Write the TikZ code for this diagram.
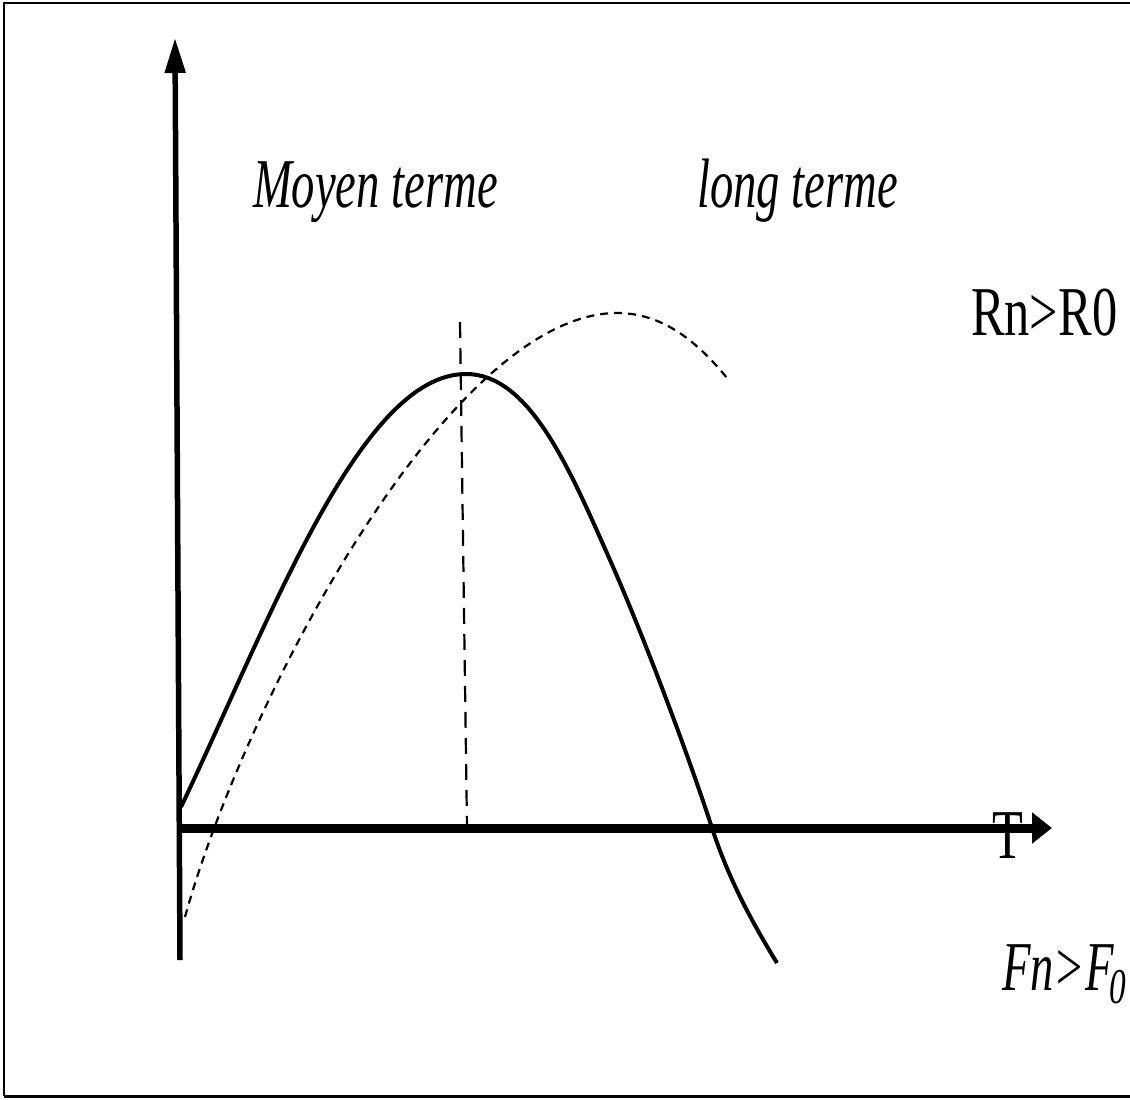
\documentclass[tikz,border=0pt]{standalone}
\usepackage{fontspec}
\setmainfont{Liberation Serif}
\usetikzlibrary{arrows.meta}
\begin{document}
\begin{tikzpicture}[x=1pt,y=-1pt,
  lbl/.style={inner sep=0pt,anchor=base west,xscale=0.72,font=\fontsize{70}{80}\selectfont},
  ilbl/.style={lbl,xscale=0.925,font=\fontsize{70}{80}\selectfont\itshape},
  thincurve/.style={line width=2.2pt,dash pattern=on 8pt off 6pt},
  guide/.style={line width=2.2pt,dash pattern=on 16pt off 10pt}]
\useasboundingbox (0,0) rectangle (1130,1100);
% frame
\draw[line width=2pt] (1130,3) -- (4,3) -- (4,1096);
\draw[line width=3pt] (4,1096) -- (1130,1096);
% axes
\coordinate (ybot) at (180,960);
\coordinate (ytop) at (175,38);
\coordinate (xl) at (177,828);
\coordinate (xr) at (1052,828);
\draw[line width=5.5pt,-{Triangle[length=35pt,width=20pt]}] (ybot) -- (ytop);
\draw[line width=9pt,-{Triangle[length=20pt,width=30pt]}] (xl) -- (xr);
% solid curve
\coordinate (s0) at (181,807);
\coordinate (speak) at (466,374);
\coordinate (s1) at (610,560);
\coordinate (scross) at (712,828);
\coordinate (send) at (777,963);
\draw[line width=4pt] (s0) .. controls (270,620) and (360,374) .. (speak)
   .. controls (530,374) and (570,470) .. (s1)
   .. controls (645,639) and (690,760) .. (scross)
   .. controls (729,880) and (752,922) .. (send);
% dashed curve
\coordinate (d0) at (185,917);
\coordinate (dpeak) at (617,313);
\coordinate (dend) at (727,378);
\draw[thincurve] (d0) .. controls (245,700) and (450,313) .. (dpeak)
   .. controls (665,313) and (700,345) .. (dend);
% vertical guide
\coordinate (gtop) at (460,322);
\coordinate (gbot) at (467,828);
\draw[guide] (gtop) -- (gbot);
% labels
\node[ilbl] (moyen) at (253,207) {Moyen terme};
\node[ilbl] (long) at (697,207) {long terme};
\node[lbl] (rn) at (971,335) {Rn>R0};
\node[lbl] (T) at (992,858) {T};
\node[ilbl] (fn) at (1002,990) {Fn>F\kern-6pt\raisebox{-13pt}{\fontsize{50}{50}\selectfont 0}};
\end{tikzpicture}
\end{document}
